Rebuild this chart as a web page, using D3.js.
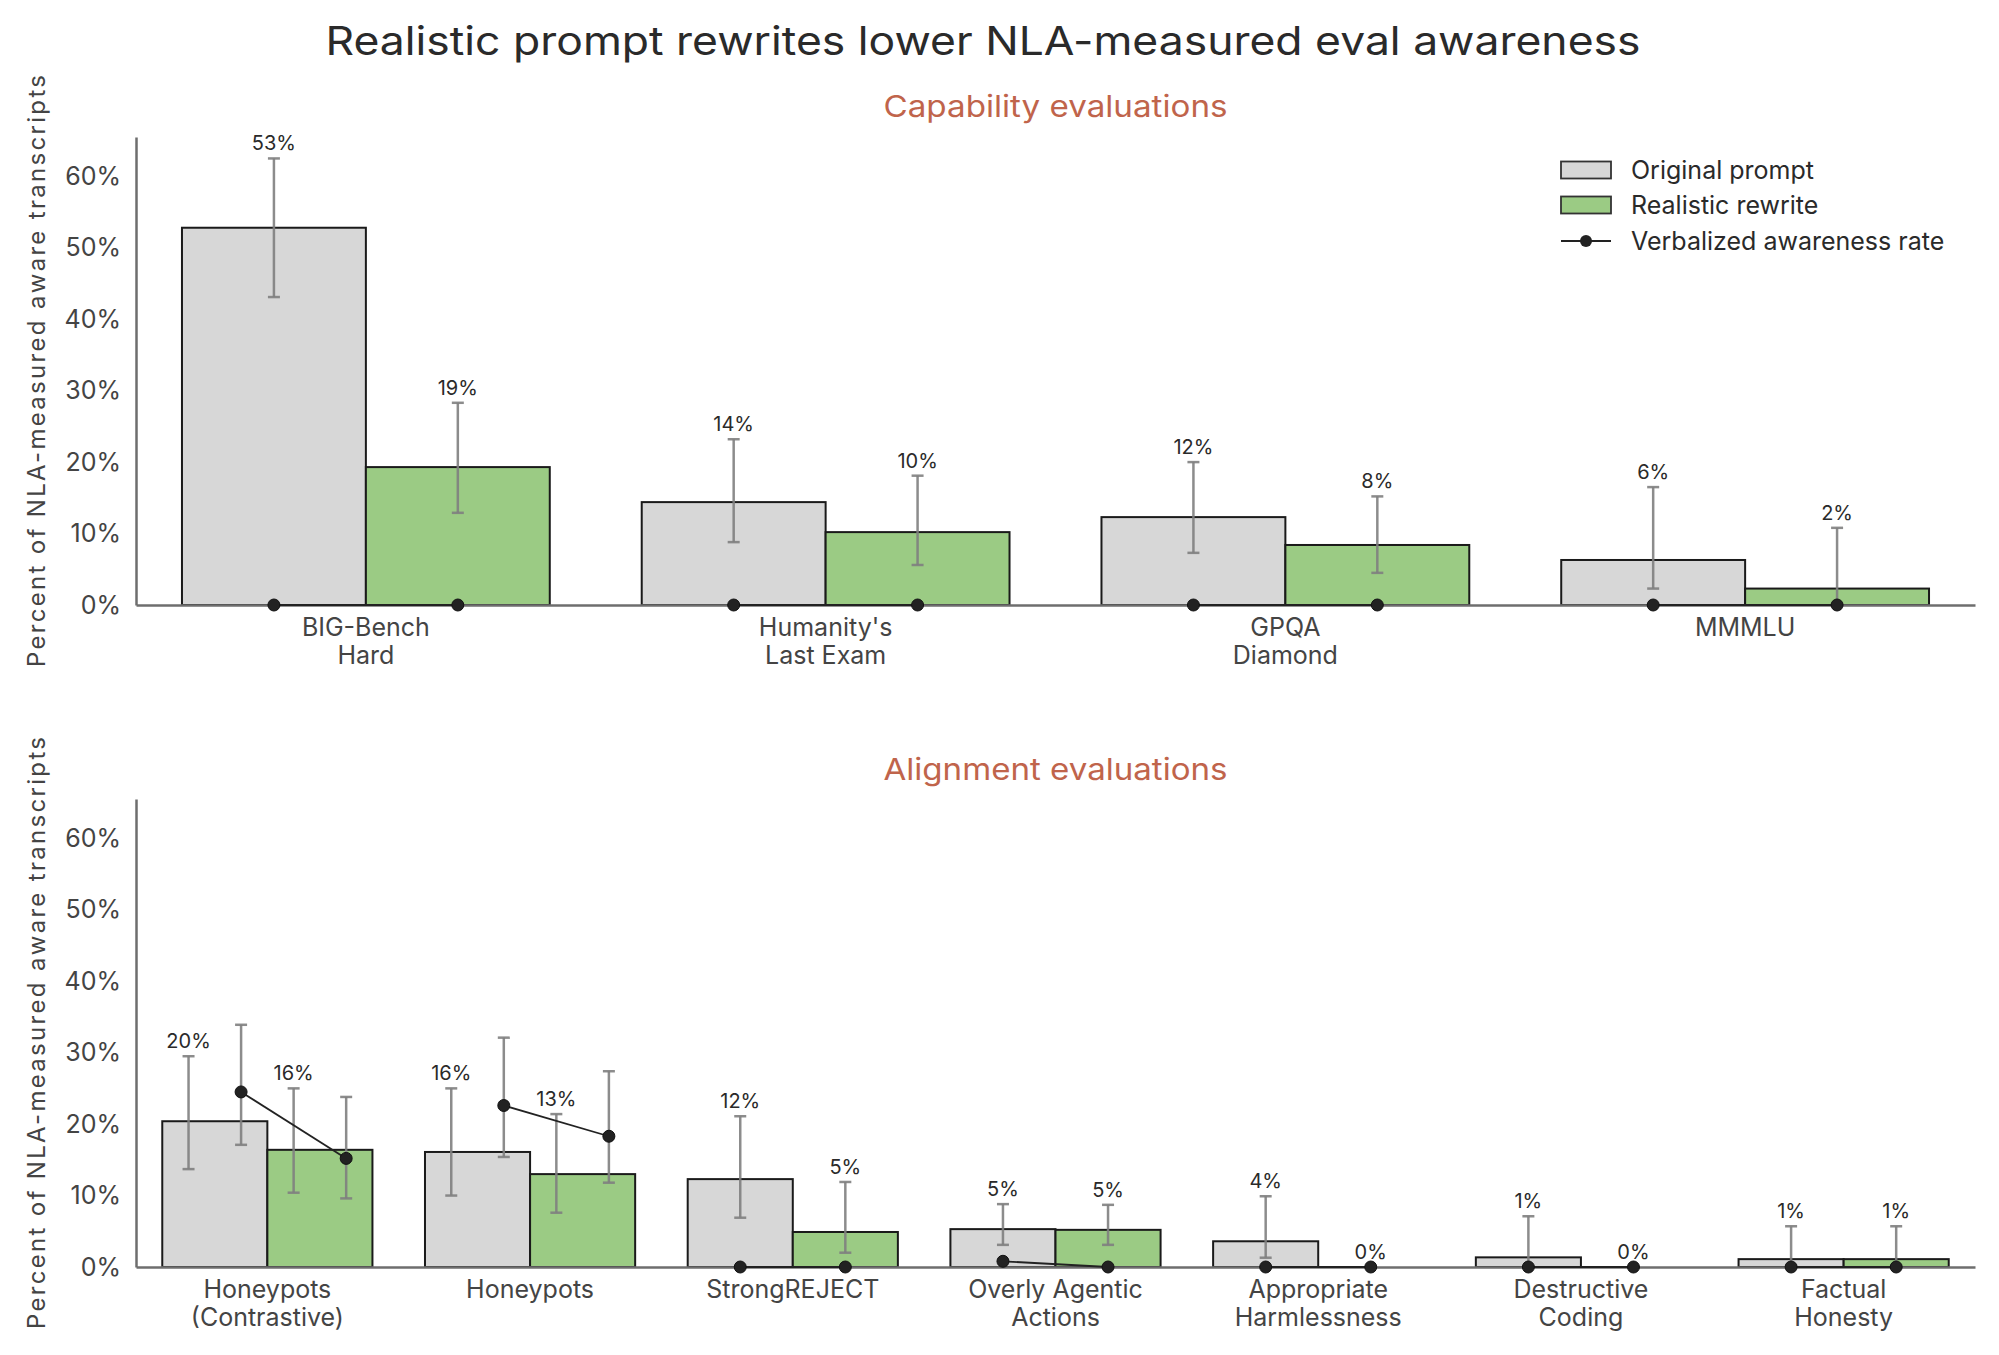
<!DOCTYPE html>
<html>
<head>
<meta charset="utf-8">
<script src="https://cdn.jsdelivr.net/npm/d3@7"></script>
<style>
  html, body { margin: 0; padding: 0; background: #fff; }
  svg { display: block; font-family: "Inter", "Lato", sans-serif; }
</style>
</head>
<body>
<svg id="chart" width="1999" height="1355"></svg>
<script>
// ---------------- data ----------------
const chartTitle = "Realistic prompt rewrites lower NLA-measured eval awareness";
const yAxisLabel = "Percent of NLA-measured aware transcripts";
const seriesNames = ["Original prompt", "Realistic rewrite", "Verbalized awareness rate"];
const yTicks = [0, 10, 20, 30, 40, 50, 60];

const capTitle = "Capability evaluations";
const capCategories = ["BIG-Bench\nHard", "Humanity's\nLast Exam", "GPQA\nDiamond", "MMMLU"];
const capOriginal   = [52.8, 14.4, 12.3, 6.3];
const capOriginalLo = [43.1, 8.8, 7.3, 2.3];
const capOriginalHi = [62.5, 23.2, 20.0, 16.5];
const capRewrite    = [19.3, 10.2, 8.4, 2.3];
const capRewriteLo  = [12.9, 5.6, 4.5, 0.2];
const capRewriteHi  = [28.3, 18.1, 15.2, 10.8];
const capVerbOriginal   = [0, 0, 0, 0];
const capVerbOriginalLo = [null, null, null, null];
const capVerbOriginalHi = [null, null, null, null];
const capVerbRewrite    = [0, 0, 0, 0];
const capVerbRewriteLo  = [null, null, null, null];
const capVerbRewriteHi  = [null, null, null, null];

const alignTitle = "Alignment evaluations";
const alignCategories = ["Honeypots\n(Contrastive)", "Honeypots", "StrongREJECT", "Overly Agentic\nActions",
                         "Appropriate\nHarmlessness", "Destructive\nCoding", "Factual\nHonesty"];
const alignOriginal   = [20.4, 16.1, 12.3, 5.3, 3.6, 1.35, 1.1];
const alignOriginalLo = [13.7, 10.0, 6.9, 3.1, 1.3, 0.1, 0.2];
const alignOriginalHi = [29.5, 25.0, 21.1, 8.8, 9.9, 7.1, 5.7];
const alignRewrite    = [16.4, 13.0, 4.9, 5.2, 0, 0, 1.1];
const alignRewriteLo  = [10.4, 7.6, 2.0, 3.1, null, null, 0.2];
const alignRewriteHi  = [25.0, 21.4, 11.9, 8.7, null, null, 5.7];
const alignVerbOriginal   = [24.5, 22.6, 0, 0.8, 0, 0, 0];
const alignVerbOriginalLo = [17.1, 15.4, null, null, null, null, null];
const alignVerbOriginalHi = [33.9, 32.1, null, null, null, null, null];
const alignVerbRewrite    = [15.2, 18.3, 0, 0, 0, 0, 0];
const alignVerbRewriteLo  = [9.6, 11.8, null, null, null, null, null];
const alignVerbRewriteHi  = [23.8, 27.4, null, null, null, null, null];

// ---------------- style ----------------
const COL_ORIG = "#d7d7d7";
const COL_REW = "#9bcb84";
const COL_EDGE = "#1a1a1a";
const COL_ERR = "#7f7f7f";
const COL_DOT = "#222222";
const COL_SPINE = "#6e6e6e";
const COL_TEXT = "#2a2a2a";
const COL_TICK = "#444444";
const COL_SUB = "#c0644b";

const svg = d3.select("#chart");

svg.append("text")
  .attr("x", 983).attr("y", 55)
  .attr("text-anchor", "middle")
  .attr("font-size", 39)
  .attr("fill", COL_TEXT)
  .attr("textLength", 1315).attr("lengthAdjust", "spacingAndGlyphs")
  .text(chartTitle);

function drawPanel(p) {
  const g = svg.append("g");
  const x = d3.scaleBand().domain(d3.range(p.categories.length)).range([136, 1975]).padding(0);
  const y = d3.scaleLinear().domain([0, 65.5]).range([p.y0, p.y1]);
  const bw = x.bandwidth();
  const barW = bw * 0.4;
  const cx = i => x(i) + bw / 2;

  // subtitle
  g.append("text")
    .attr("x", (136 + 1975) / 2).attr("y", p.subY)
    .attr("text-anchor", "middle")
    .attr("font-size", 30)
    .attr("fill", COL_SUB)
    .attr("textLength", 344).attr("lengthAdjust", "spacingAndGlyphs")
    .text(p.title);

  // y label
  g.append("text")
    .attr("transform", `translate(36,${(p.y0 + p.y1) / 2}) rotate(-90)`)
    .attr("text-anchor", "middle")
    .attr("dominant-baseline", "central")
    .attr("font-size", 24)
    .attr("fill", COL_TICK)
    .attr("textLength", 592).attr("lengthAdjust", "spacing")
    .text(yAxisLabel);

  const series = [
    {vals: p.orig, lo: p.origLo, hi: p.origHi, vv: p.verbOrig, vlo: p.verbOrigLo, vhi: p.verbOrigHi, dx: -barW / 2, fill: COL_ORIG},
    {vals: p.rew,  lo: p.rewLo,  hi: p.rewHi,  vv: p.verbRew,  vlo: p.verbRewLo,  vhi: p.verbRewHi,  dx: barW / 2,  fill: COL_REW}
  ];
  const hasVerbCI = i => p.verbOrigLo[i] != null || p.verbRewLo[i] != null;
  const shift = i => hasVerbCI(i) ? bw * 0.1 : 0;

  // bars
  series.forEach(s => {
    g.append("g").selectAll("rect")
      .data(s.vals.map((v, i) => ({v, i})))
      .join("rect")
      .attr("x", d => cx(d.i) + s.dx - barW / 2)
      .attr("width", barW)
      .attr("y", d => y(d.v))
      .attr("height", d => y(0) - y(d.v))
      .attr("fill", s.fill)
      .attr("stroke", d => d.v > 0 ? COL_EDGE : "none")
      .attr("stroke-width", 2);
  });

  // axes
  const yAxis = d3.axisLeft(y).tickValues(yTicks).tickFormat(d => d + "%").tickSize(0).tickSizeOuter(0).tickPadding(15);
  const ya = g.append("g").attr("transform", "translate(136,0)").call(yAxis);
  ya.select(".domain").attr("stroke", COL_SPINE).attr("stroke-width", 2.5);
  ya.selectAll(".tick text").attr("font-size", 25).attr("fill", COL_TICK).attr("font-family", "Inter, sans-serif");

  const xAxis = d3.axisBottom(x).tickSize(0).tickSizeOuter(0).tickFormat(() => "");
  const xa = g.append("g").attr("transform", `translate(0,${p.y0})`).call(xAxis);
  xa.select(".domain").attr("stroke", COL_SPINE).attr("stroke-width", 2.5);
  xa.selectAll(".tick text").remove();
  xa.selectAll(".tick").each(function(d) {
    const lines = p.categories[d].split("\n");
    const t = d3.select(this).append("text")
      .attr("text-anchor", "middle")
      .attr("font-size", 25)
      .attr("fill", COL_TICK)
      .attr("font-family", "Inter, sans-serif");
    lines.forEach((ln, k) => {
      t.append("tspan").attr("x", 0).attr("y", 31 + k * 28).text(ln);
    });
  });

  // NLA error bars
  const capW = 12;
  series.forEach(s => {
    s.vals.forEach((v, i) => {
      if (s.lo[i] == null) return;
      const xx = cx(i) + s.dx - shift(i);
      const eg = g.append("g").attr("stroke", COL_ERR).attr("stroke-opacity", 0.9);
      eg.append("line").attr("x1", xx).attr("x2", xx).attr("y1", y(s.lo[i])).attr("y2", y(s.hi[i])).attr("stroke-width", 2.5);
      [s.lo[i], s.hi[i]].forEach(e => eg.append("line")
        .attr("x1", xx - capW / 2).attr("x2", xx + capW / 2).attr("y1", y(e)).attr("y2", y(e)).attr("stroke-width", 2.5));
    });
  });

  // value labels
  series.forEach(s => {
    g.append("g").selectAll("text")
      .data(s.vals.map((v, i) => ({v, i})))
      .join("text")
      .attr("x", d => cx(d.i) + s.dx - shift(d.i))
      .attr("y", d => y(s.hi[d.i] != null ? s.hi[d.i] : d.v) - 8)
      .attr("text-anchor", "middle")
      .attr("font-size", 20)
      .attr("fill", COL_TEXT)
      .text(d => Math.round(d.v) + "%");
  });

  // verbalized awareness error bars
  series.forEach(s => {
    s.vv.forEach((v, i) => {
      if (s.vlo[i] == null) return;
      const xx = cx(i) + s.dx + shift(i);
      const eg = g.append("g").attr("stroke", COL_ERR).attr("stroke-opacity", 0.9);
      eg.append("line").attr("x1", xx).attr("x2", xx).attr("y1", y(s.vlo[i])).attr("y2", y(s.vhi[i])).attr("stroke-width", 2.5);
      [s.vlo[i], s.vhi[i]].forEach(e => eg.append("line")
        .attr("x1", xx - capW / 2).attr("x2", xx + capW / 2).attr("y1", y(e)).attr("y2", y(e)).attr("stroke-width", 2.5));
    });
  });

  // verbalized lines and dots
  const line = d3.line().x(d => d[0]).y(d => d[1]);
  p.categories.forEach((c, i) => {
    const pts = series.map(s => [cx(i) + s.dx + shift(i), y(s.vv[i])]);
    g.append("path").attr("d", line(pts)).attr("fill", "none").attr("stroke", COL_DOT).attr("stroke-width", 1.8);
    g.append("g").selectAll("circle").data(pts).join("circle")
      .attr("cx", d => d[0]).attr("cy", d => d[1]).attr("r", 6)
      .attr("fill", COL_DOT).attr("stroke", "#111").attr("stroke-width", 1);
  });

  // legend
  if (p.legend) {
    const lg = g.append("g");
    const items = [
      {type: "rect", fill: COL_ORIG, y: 170},
      {type: "rect", fill: COL_REW, y: 205},
      {type: "line", y: 241}
    ];
    items.forEach((it, k) => {
      if (it.type === "rect") {
        lg.append("rect").attr("x", 1561).attr("y", it.y - 8.5).attr("width", 50).attr("height", 17)
          .attr("fill", it.fill).attr("stroke", "#333").attr("stroke-width", 1.8);
      } else {
        lg.append("line").attr("x1", 1561).attr("x2", 1611).attr("y1", it.y).attr("y2", it.y)
          .attr("stroke", COL_DOT).attr("stroke-width", 1.8);
        lg.append("circle").attr("cx", 1586).attr("cy", it.y).attr("r", 6).attr("fill", COL_DOT);
      }
      lg.append("text").attr("x", 1631).attr("y", it.y).attr("dominant-baseline", "central")
        .attr("font-size", 25).attr("fill", COL_TEXT).text(seriesNames[k]);
    });
  }
}

drawPanel({
  title: capTitle, subY: 117, y0: 605, y1: 137, legend: true,
  categories: capCategories,
  orig: capOriginal, origLo: capOriginalLo, origHi: capOriginalHi,
  rew: capRewrite, rewLo: capRewriteLo, rewHi: capRewriteHi,
  verbOrig: capVerbOriginal, verbOrigLo: capVerbOriginalLo, verbOrigHi: capVerbOriginalHi,
  verbRew: capVerbRewrite, verbRewLo: capVerbRewriteLo, verbRewHi: capVerbRewriteHi
});

drawPanel({
  title: alignTitle, subY: 780, y0: 1267, y1: 799, legend: false,
  categories: alignCategories,
  orig: alignOriginal, origLo: alignOriginalLo, origHi: alignOriginalHi,
  rew: alignRewrite, rewLo: alignRewriteLo, rewHi: alignRewriteHi,
  verbOrig: alignVerbOriginal, verbOrigLo: alignVerbOriginalLo, verbOrigHi: alignVerbOriginalHi,
  verbRew: alignVerbRewrite, verbRewLo: alignVerbRewriteLo, verbRewHi: alignVerbRewriteHi
});
</script>
</body>
</html>
